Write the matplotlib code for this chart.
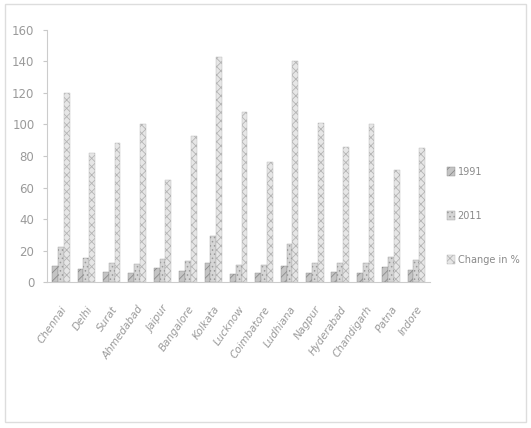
import matplotlib
matplotlib.use("Agg")
import matplotlib.pyplot as plt
import numpy as np
from matplotlib.patches import Rectangle

categories = ["Chennai", "Delhi", "Surat", "Ahmedabad", "Jaipur", "Bangalore",
              "Kolkata", "Lucknow", "Coimbatore", "Ludhiana", "Nagpur",
              "Hyderabad", "Chandigarh", "Patna", "Indore"]
v1991 = [10, 8, 6.5, 5.7, 9, 7, 12, 5.2, 6, 10, 6, 6.5, 6, 9.5, 7.5]
v2011 = [22, 15, 12, 11.4, 14.8, 13.5, 29, 10.8, 10.6, 24, 12, 12, 12, 16, 14]
change = [120, 82, 88, 100, 65, 93, 143, 108, 76, 140, 101, 86, 100, 71, 85]
series_names = ["1991", "2011", "Change in %"]
yticks = [0, 20, 40, 60, 80, 100, 120, 140, 160]

plt.rcParams['hatch.linewidth'] = 0.6
fig = plt.figure(figsize=(5.31, 4.28), dpi=100)
ax = fig.add_axes([0.0885, 0.341, 0.722, 0.589])

x = np.arange(len(categories))
w = 0.23
b1 = ax.bar(x - w, v1991, w, color="#c4c4c4", edgecolor="#8a8a8a", hatch="////", linewidth=0.3, label=series_names[0])
b2 = ax.bar(x, v2011, w, color="#d6d6d6", edgecolor="#9a9a9a", hatch="....", linewidth=0.3, label=series_names[1])
b3 = ax.bar(x + w, change, w, color="#e6e6e6", edgecolor="#b4b4b4", hatch="xxxx", linewidth=0.3, label=series_names[2])

ax.set_ylim(0, 160)
ax.set_xlim(-0.55, 14.55)
ax.set_yticks(yticks)
ax.set_yticklabels([str(t) for t in yticks], color="#9a9a9a", fontsize=8.5)
ax.tick_params(axis='y', length=3, color="#c8c8c8", pad=6)
ax.tick_params(axis='x', length=0)
ax.set_xticks(x)
ax.set_xticklabels(categories, rotation=55, ha='right', rotation_mode='anchor',
                   color="#9a9a9a", fontsize=7.5, style='italic')
ax.tick_params(axis='x', pad=16)
for s in ["top", "right"]:
    ax.spines[s].set_visible(False)
ax.spines["left"].set_color("#cccccc")
ax.spines["left"].set_linestyle((0, (1, 1)))
ax.spines["bottom"].set_color("#cccccc")
ax.spines["bottom"].set_linewidth(0.8)

leg = fig.legend(handles=[b1, b2, b3], labels=series_names, loc="center left",
                 bbox_to_anchor=(0.825, 0.495), frameon=False, fontsize=7,
                 labelspacing=3.5, handlelength=0.8, handleheight=1.0,
                 handletextpad=0.3, labelcolor="#8a8a8a")

fig.patches.append(Rectangle((0.01, 0.015), 0.98, 0.975, transform=fig.transFigure,
                             fill=False, edgecolor="#dddddd", linewidth=1.0))
fig.savefig("out.png", dpi=100, facecolor="white")
